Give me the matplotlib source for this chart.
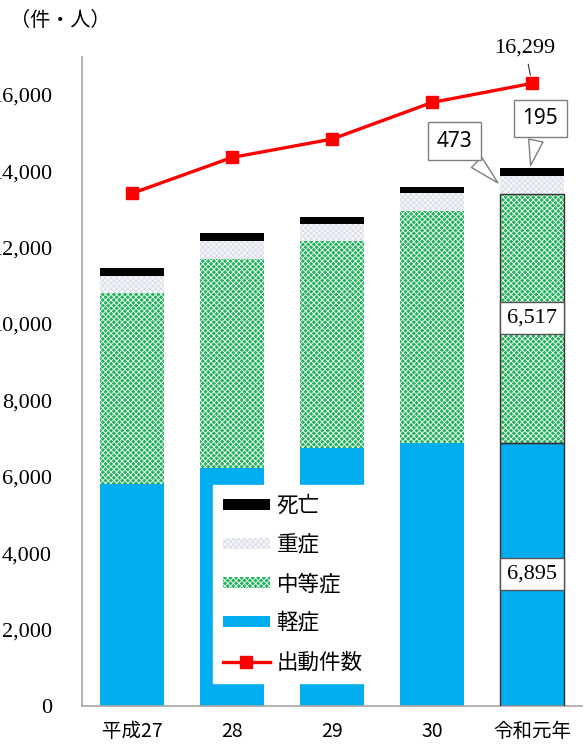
import matplotlib
matplotlib.use('Agg')
import matplotlib.pyplot as plt
from matplotlib.ticker import FuncFormatter

years = ['平成27', '28', '29', '30', '令和元年']
mild = [5810, 6220, 6750, 6890, 6895]
moderate = [5000, 5470, 5415, 6076, 6517]
severe = [445, 488, 453, 472, 473]
death = [200, 192, 192, 160, 195]
dispatch = [13420, 14360, 14840, 15800, 16299]

JP = ['Noto Sans CJK JP', 'DejaVu Sans']
SERIF = ['Liberation Serif', 'DejaVu Serif']

plt.rcParams['hatch.linewidth'] = 0.6

W, H = 585, 749
fig = plt.figure(figsize=(W / 100, H / 100), dpi=100)
ax = fig.add_axes([82 / W, 43 / H, 500 / W, 649.4 / H])

x = list(range(len(years)))
bw = 0.64
bot2 = [a + b for a, b in zip(mild, moderate)]
bot3 = [a + b for a, b in zip(bot2, severe)]
tot = [a + b for a, b in zip(bot3, death)]

b1 = ax.bar(x, mild, bw, color='#00aeef', lw=0, zorder=2)
b2 = ax.bar(x, moderate, bw, bottom=mild, facecolor='#22b35c', edgecolor='white',
            hatch='xxxxxx', lw=0, zorder=2)
b3 = ax.bar(x, severe, bw, bottom=bot2, facecolor='#f5f6f9', edgecolor='#d8dbe6',
            hatch='xxxxxx', lw=0, zorder=2)
b4 = ax.bar(x, death, bw, bottom=bot3, color='black', lw=0, zorder=2)
# outline on the last bar
ax.bar(x[-1], mild[-1], bw, fill=False, edgecolor='#333333', lw=1.0, zorder=3)
ax.bar(x[-1], moderate[-1], bw, bottom=mild[-1], fill=False, edgecolor='#333333', lw=1.0, zorder=3)

line, = ax.plot(x, dispatch, color='#ff0000', lw=2.4, marker='s', ms=9, zorder=5)

ax.set_xlim(-0.5, len(years) - 0.5)
ax.set_ylim(0, 17000)
ax.set_yticks(range(0, 16001, 2000))
ax.yaxis.set_major_formatter(FuncFormatter(lambda v, p: f'{int(v):,}'))
ax.set_xticks(x)
ax.set_xticklabels(years, fontfamily=JP, fontsize=14)
for t in ax.get_yticklabels():
    t.set_fontfamily(SERIF)
    t.set_fontsize(16)
ax.tick_params(axis='y', length=0, pad=21.6)
ax.tick_params(axis='x', length=0, pad=11)
for s in ['top', 'right']:
    ax.spines[s].set_visible(False)
for s in ['left', 'bottom']:
    ax.spines[s].set_color('#a6a6a6')
    ax.spines[s].set_linewidth(1.2)

fig.text(10 / W, 1 - 21 / H, '（件・人）', fontfamily=JP, fontsize=14.5, va='center', ha='left')

# annotations
ax.annotate(f'{dispatch[-1]:,}', xy=(x[-1], dispatch[-1]), xytext=(x[-1] - 0.07, 17230),
            ha='center', va='center', fontfamily=SERIF, fontsize=16,
            arrowprops=dict(arrowstyle='-', lw=0.8, color='#333333', shrinkA=3, shrinkB=6),
            annotation_clip=False, zorder=6)

box = dict(boxstyle='square,pad=0.4', fc='white', ec='#7f7f7f', lw=1.0)
wedge = dict(arrowstyle='wedge,tail_width=0.7,shrink_factor=0.5', fc='white', ec='#7f7f7f', lw=1.0)
ax.annotate(f'{death[-1]}', xy=(x[-1] - 0.02, tot[-1]), xytext=(x[-1] + 0.085, 15380),
            ha='center', va='center', fontfamily=['Noto Sans', 'DejaVu Sans'], fontsize=15,
            bbox=box, arrowprops=wedge, annotation_clip=False, zorder=6)
ax.annotate(f'{severe[-1]}', xy=(x[-1] - 0.32, bot2[-1] + 230), xytext=(x[-1] - 0.775, 14790),
            ha='center', va='center', fontfamily=['Noto Sans', 'DejaVu Sans'], fontsize=15,
            bbox=box, arrowprops=wedge, annotation_clip=False, zorder=6)

box2 = dict(boxstyle='square,pad=0.3', fc='white', ec='#555555', lw=1.0)
ax.text(x[-1], mild[-1] + moderate[-1] / 2, f'{moderate[-1]:,}', ha='center', va='center',
        fontfamily=SERIF, fontsize=16, bbox=box2, zorder=6)
ax.text(x[-1], mild[-1] / 2, f'{mild[-1]:,}', ha='center', va='center',
        fontfamily=SERIF, fontsize=16, bbox=box2, zorder=6)

leg = ax.legend([b4, b3, b2, b1, line], ['死亡', '重症', '中等症', '軽症', '出動件数'],
                loc='upper left', bbox_to_anchor=(0.262, 0.34), borderaxespad=0,
                prop={'family': JP, 'size': 15.5}, handlelength=2.2, handleheight=0.4,
                handletextpad=0.3, labelspacing=0.8, borderpad=0.45,
                frameon=True, fancybox=False, framealpha=1, edgecolor='white')
leg.set_zorder(7)

fig.savefig('out.png', dpi=100)
